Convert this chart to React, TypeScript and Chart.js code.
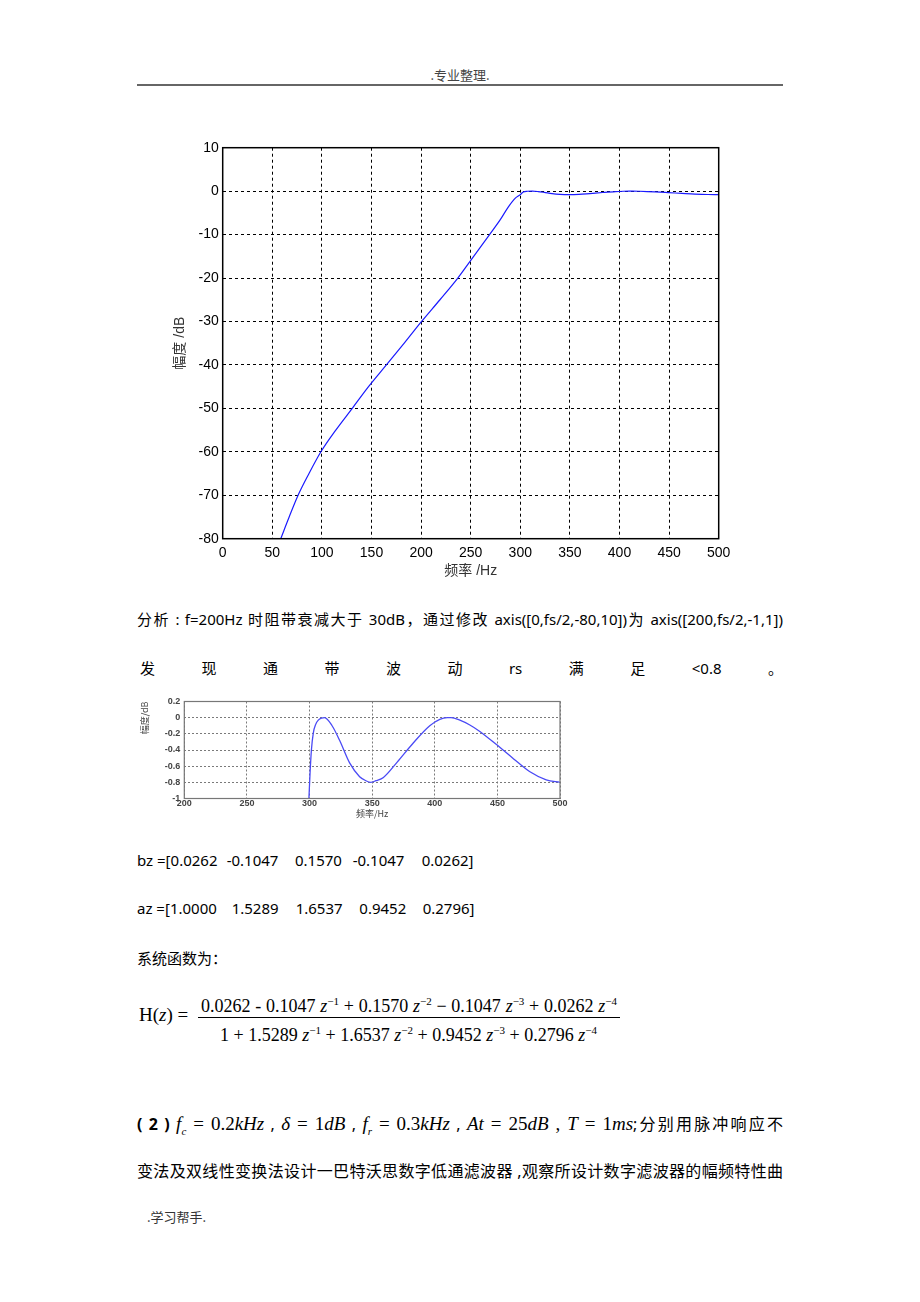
import React, { useEffect, useRef } from "react";
import { Chart, registerables } from "chart.js";
Chart.register(...registerables);

// ---- main chart data (high-pass magnitude response, dB vs Hz) ----
const mainFreq = [58.5, 67, 76, 87, 99, 114, 130.6, 147, 165, 183, 200.5, 219, 237, 253, 269, 280, 288, 295, 300, 303, 307, 312, 318, 324, 332, 340, 349, 359, 370, 383, 396, 404, 410, 413, 420, 428, 436, 449, 463, 476, 489, 500];
const mainMag = [-80, -75, -70, -65, -60, -55, -50, -45, -40, -35, -30, -25, -20, -15, -10, -6.5, -3.6, -1.6, -0.8, -0.2, -0.03, 0, -0.1, -0.28, -0.56, -0.73, -0.8, -0.74, -0.55, -0.31, -0.1, -0.02, 0, 0, -0.03, -0.09, -0.17, -0.33, -0.51, -0.67, -0.77, -0.8];
const mainXTicks = [0, 50, 100, 150, 200, 250, 300, 350, 400, 450, 500];
const mainYTicks = [10, 0, -10, -20, -30, -40, -50, -60, -70, -80];

// ---- zoomed passband chart data ----
const smallFreq = [299.5, 300.4, 301.5, 303, 305, 307, 309.5, 312, 318, 324, 332, 340, 345, 349, 353, 359, 370, 383, 396, 404, 410, 413, 420, 428, 436, 449, 463, 476, 489, 500];
const smallMag = [-1, -0.69, -0.4, -0.19, -0.08, -0.03, -0.005, 0, -0.1, -0.28, -0.56, -0.73, -0.78, -0.8, -0.78, -0.74, -0.55, -0.31, -0.1, -0.02, 0, 0, -0.03, -0.09, -0.17, -0.33, -0.51, -0.67, -0.77, -0.8];
const smallXTicks = [200, 250, 300, 350, 400, 450, 500];
const smallYTicks = [0.2, 0, -0.2, -0.4, -0.6, -0.8, -1];

const bzVals = ["0.0262", "-0.1047", "0.1570", "-0.1047", "0.0262"];
const azVals = ["1.0000", "1.5289", "1.6537", "0.9452", "0.2796"];

const framePlugin = (color: string, width: number) => ({
  id: "frame",
  afterDraw(chart: any) {
    const { ctx, chartArea: a } = chart;
    ctx.save();
    ctx.strokeStyle = color;
    ctx.lineWidth = width;
    ctx.setLineDash([]);
    ctx.strokeRect(a.left, a.top, a.right - a.left, a.bottom - a.top);
    ctx.restore();
  },
});

function MainChart() {
  const ref = useRef<HTMLCanvasElement | null>(null);
  useEffect(() => {
    if (!ref.current) return;
    const pts = mainFreq.map((f, i) => ({ x: f, y: mainMag[i] }));
    const chart = new Chart(ref.current, {
      type: "line",
      data: {
        datasets: [
          {
            data: pts,
            borderColor: "#1a1aff",
            borderWidth: 1.2,
            pointRadius: 0,
            cubicInterpolationMode: "monotone",
            fill: false,
          },
        ],
      },
      options: {
        animation: false,
        responsive: false,
        maintainAspectRatio: false,
        layout: { padding: { top: 17.7, right: 21.3, left: 0, bottom: 0 } },
        plugins: { legend: { display: false }, tooltip: { enabled: false } },
        scales: {
          x: {
            type: "linear",
            min: 0,
            max: 500,
            afterBuildTicks: (s: any) => {
              s.ticks = mainXTicks.map((v) => ({ value: v }));
            },
            afterFit: (s: any) => {
              s.height = 46.3;
            },
            grid: { color: "#000", lineWidth: 1, drawTicks: false },
            border: { display: false, dash: [3, 3] },
            ticks: {
              color: "#000",
              padding: 6,
              font: { family: "'Liberation Sans', Arial", size: 14 },
              maxRotation: 0,
            },
            title: {
              display: true,
              text: "频率 /Hz",
              color: "#333",
              font: { family: "'Liberation Sans', 'Noto Sans CJK SC'", size: 14 },
              padding: { top: 0, bottom: 5.6 },
            },
          },
          y: {
            type: "linear",
            min: -80,
            max: 10,
            afterBuildTicks: (s: any) => {
              s.ticks = mainYTicks.map((v) => ({ value: v }));
            },
            afterFit: (s: any) => {
              s.width = 62.7;
            },
            grid: { color: "#000", lineWidth: 1, drawTicks: false },
            border: { display: false, dash: [3, 3] },
            ticks: {
              color: "#000",
              padding: 4,
              font: { family: "'Liberation Sans', Arial", size: 14 },
            },
            title: {
              display: true,
              text: "幅度 /dB",
              color: "#333",
              font: { family: "'Liberation Sans', 'Noto Sans CJK SC'", size: 14 },
              padding: { top: 11.6, bottom: 0 },
            },
          },
        },
      },
      plugins: [framePlugin("#000", 1.5)],
    } as any);
    return () => chart.destroy();
  }, []);
  return (
    <canvas
      ref={ref}
      width={580}
      height={455}
      style={{ position: "absolute", left: 160, top: 130, width: 580, height: 455 }}
    />
  );
}

function SmallChart() {
  const ref = useRef<HTMLCanvasElement | null>(null);
  useEffect(() => {
    if (!ref.current) return;
    const pts = smallFreq.map((f, i) => ({ x: f, y: smallMag[i] }));
    const tickFont = { family: "'Liberation Sans', Arial", size: 9, weight: "bold" as const };
    const chart = new Chart(ref.current, {
      type: "line",
      data: {
        datasets: [
          {
            data: pts,
            borderColor: "#4a4af5",
            borderWidth: 1.3,
            pointRadius: 0,
            cubicInterpolationMode: "monotone",
            fill: false,
          },
        ],
      },
      options: {
        animation: false,
        responsive: false,
        maintainAspectRatio: false,
        layout: { padding: { top: 11.5, right: 10, left: 0, bottom: 0 } },
        plugins: { legend: { display: false }, tooltip: { enabled: false } },
        scales: {
          x: {
            type: "linear",
            min: 200,
            max: 500,
            afterBuildTicks: (s: any) => {
              s.ticks = smallXTicks.map((v) => ({ value: v }));
            },
            afterFit: (s: any) => {
              s.height = 21.5;
            },
            grid: { color: "#7a7a7a", lineWidth: 1, drawTicks: false },
            border: { display: false, dash: [2, 2] },
            ticks: { color: "#444", padding: 0, font: tickFont, maxRotation: 0 },
            title: {
              display: true,
              text: "频率/Hz",
              color: "#444",
              font: { family: "'Noto Sans CJK SC'", size: 9 },
              padding: { top: 0, bottom: 1.2 },
            },
          },
          y: {
            type: "linear",
            min: -1,
            max: 0.2,
            afterBuildTicks: (s: any) => {
              s.ticks = smallYTicks.map((v) => ({ value: v }));
            },
            afterFit: (s: any) => {
              s.width = 54.3;
            },
            grid: { color: "#7a7a7a", lineWidth: 1, drawTicks: false },
            border: { display: false, dash: [2, 2] },
            ticks: {
              color: "#444",
              padding: 4,
              font: tickFont,
              callback: (v: any) => (Math.abs(v) < 1e-9 ? "0" : String(Number(v).toFixed(1)).replace(/\.0$/, "")),
            },
            title: {
              display: true,
              text: "幅度/dB",
              color: "#444",
              align: "end",
              font: { family: "'Noto Sans CJK SC'", size: 9 },
              padding: { top: 9.6, bottom: 0 },
            },
          },
        },
      },
      plugins: [framePlugin("#777", 1.2)],
    } as any);
    return () => chart.destroy();
  }, []);
  return (
    <canvas
      ref={ref}
      width={440}
      height={130}
      style={{ position: "absolute", left: 130, top: 690, width: 440, height: 130 }}
    />
  );
}

const sansCJK = "'Noto Sans', 'Noto Sans CJK SC', sans-serif";
const serif = "'Liberation Serif', 'Times New Roman', serif";

function Text({ left, cy, size, lh, children, style }: any) {
  return (
    <div
      style={{
        position: "absolute",
        left,
        top: cy - lh / 2,
        lineHeight: lh + "px",
        height: lh,
        fontSize: size,
        fontFamily: sansCJK,
        color: "#000",
        whiteSpace: "nowrap",
        ...style,
      }}
    >
      {children}
    </div>
  );
}

function Justified({ cy, size, lh, children, style }: any) {
  return (
    <div
      style={{
        position: "absolute",
        left: 137,
        width: 646,
        top: cy - lh / 2,
        lineHeight: lh + "px",
        height: lh,
        overflow: "visible",
        fontSize: size,
        fontFamily: sansCJK,
        color: "#000",
        textAlign: "justify",
        textAlignLast: "justify",
        ...style,
      }}
    >
      {children}
    </div>
  );
}

const supStyle: React.CSSProperties = { fontSize: 11, verticalAlign: "7px", fontStyle: "normal" };
function Z({ p }: { p: string }) {
  return (
    <span>
      <i>z</i>
      <span style={supStyle}>{p}</span>
    </span>
  );
}

export default function App() {
  const line2 = ["发", "现", "通", "带", "波", "动", "rs", "满", "足", "<0.8", "。"];
  const bzX = [226.7, 295, 352.7, 421.7];
  const azX = [231.7, 295.7, 359.3, 422.7];
  return (
    <div style={{ position: "absolute", left: 0, top: 0, width: 920, height: 1302, background: "#fff", overflow: "hidden" }}>
      {/* header */}
      <div
        style={{
          position: "absolute",
          left: 0,
          width: 920,
          top: 66,
          lineHeight: "18px",
          textAlign: "center",
          fontSize: 13,
          fontFamily: "'Noto Sans CJK SC', sans-serif",
          color: "#444",
        }}
      >
        .专业整理.
      </div>
      <div style={{ position: "absolute", left: 137, top: 84, width: 646, height: 2, background: "#666" }} />

      <MainChart />

      <Justified cy={619} size={15} lh={22}>
        分析 : f=200Hz 时阻带衰减大于 30dB，通过修改 axis([0,fs/2,-80,10])为 axis([200,fs/2,-1,1])
      </Justified>

      <div
        style={{
          position: "absolute",
          left: 140,
          width: 643,
          top: 657,
          height: 22,
          lineHeight: "22px",
          display: "flex",
          justifyContent: "space-between",
          fontSize: 15,
          fontFamily: sansCJK,
          color: "#000",
        }}
      >
        {line2.map((t, i) => (
          <span key={i}>{t}</span>
        ))}
      </div>

      <SmallChart />

      <Text left={137} cy={860} size={15} lh={22}>bz =[{bzVals[0]}</Text>
      {bzVals.slice(1).map((v, i) => (
        <Text key={"bz" + i} left={bzX[i]} cy={860} size={15} lh={22}>
          {v + (i === bzVals.length - 2 ? "]" : "")}
        </Text>
      ))}
      <Text left={137} cy={908} size={15} lh={22}>az =[{azVals[0]}</Text>
      {azVals.slice(1).map((v, i) => (
        <Text key={"az" + i} left={azX[i]} cy={908} size={15} lh={22}>
          {v + (i === azVals.length - 2 ? "]" : "")}
        </Text>
      ))}
      <Text left={137} cy={958} size={15} lh={22}>系统函数为：</Text>

      {/* formula */}
      <div
        style={{
          position: "absolute",
          left: 139,
          top: 1003,
          lineHeight: "24px",
          fontSize: 19,
          fontFamily: serif,
          whiteSpace: "nowrap",
        }}
      >
        H(<i>z</i>) =
      </div>
      <div
        style={{
          position: "absolute",
          left: 201,
          width: 416,
          top: 989,
          lineHeight: "24px",
          height: 24,
          fontSize: 18,
          fontFamily: serif,
          textAlign: "justify",
          textAlignLast: "justify",
        }}
      >
        0.0262 - 0.1047 <Z p="−1" /> + 0.1570 <Z p="−2" /> − 0.1047 <Z p="−3" /> + 0.0262 <Z p="−4" />
      </div>
      <div style={{ position: "absolute", left: 198, top: 1017, width: 422, height: 1, background: "#000" }} />
      <div
        style={{
          position: "absolute",
          left: 220,
          width: 377,
          top: 1018,
          lineHeight: "24px",
          height: 24,
          fontSize: 18,
          fontFamily: serif,
          textAlign: "justify",
          textAlignLast: "justify",
        }}
      >
        1 + 1.5289 <Z p="−1" /> + 1.6537 <Z p="−2" /> + 0.9452 <Z p="−3" /> + 0.2796 <Z p="−4" />
      </div>

      {/* (2) line */}
      <Justified cy={1124} size={16} lh={24}>
        <b style={{ fontFamily: sansCJK }}>( 2 )</b>{" "}
        <span style={{ fontFamily: serif, fontSize: 19 }}>
          <i>f</i>
          <sub style={{ fontSize: 11, fontStyle: "italic" }}>c</sub> = 0.2<i>kHz</i>
        </span>{" "}
        ,{" "}
        <span style={{ fontFamily: serif, fontSize: 19 }}>
          <i>δ</i> = 1<i>dB</i>
        </span>{" "}
        ,{" "}
        <span style={{ fontFamily: serif, fontSize: 19 }}>
          <i>f</i>
          <sub style={{ fontSize: 11, fontStyle: "italic" }}>r</sub> = 0.3<i>kHz</i>
        </span>{" "}
        ,{" "}
        <span style={{ fontFamily: serif, fontSize: 19 }}>
          <i>At</i> = 25<i>dB</i> , <i>T</i> = 1<i>ms</i>
        </span>
        ;分别用脉冲响应不
      </Justified>

      <Justified cy={1171} size={16} lh={24}>
        变法及双线性变换法设计一巴特沃思数字低通滤波器 ,观察所设计数字滤波器的幅频特性曲
      </Justified>

      <div
        style={{
          position: "absolute",
          left: 147,
          top: 1208,
          lineHeight: "18px",
          fontSize: 13,
          fontFamily: "'Noto Sans CJK SC', sans-serif",
          color: "#333",
          whiteSpace: "nowrap",
        }}
      >
        .学习帮手.
      </div>
    </div>
  );
}
